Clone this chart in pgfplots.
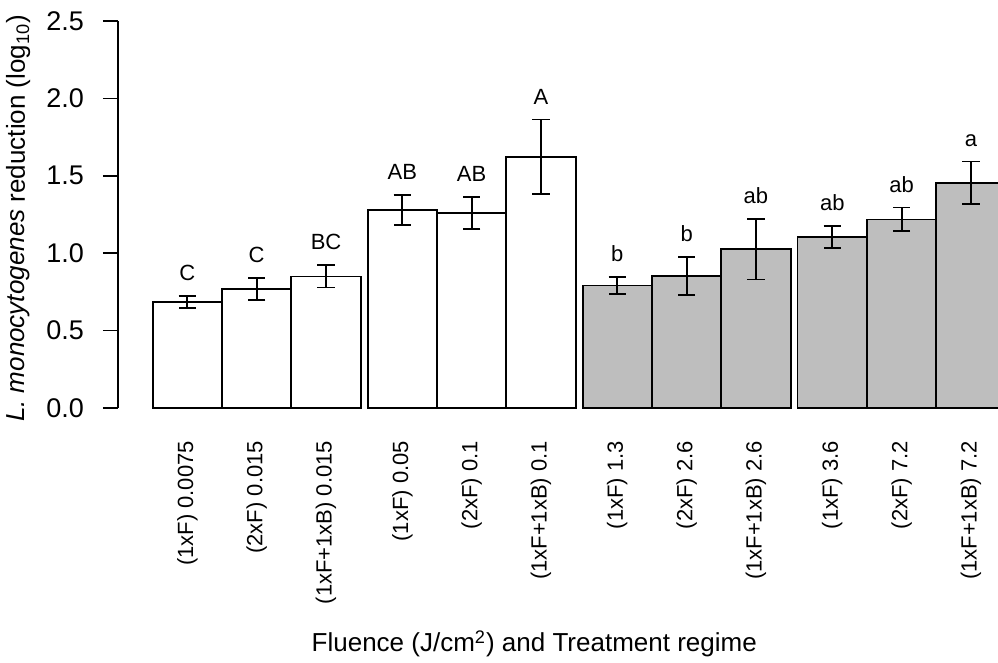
\documentclass[border=0pt]{standalone}
\usepackage{pgfplots}
\pgfplotsset{compat=1.18}
\usepackage{pgfplotstable}
\usepackage{fontspec}
\setmainfont{Liberation Sans}
\definecolor{rgray}{HTML}{BEBEBE}

% mean log reduction, standard error, letter group
\pgfplotstableread{
x    y     err   lab
1    0.685 0.038 C
2    0.771 0.071 C
3    0.850 0.072 BC
4.1  1.278 0.097 AB
5.1  1.259 0.103 AB
6.1  1.624 0.240 A
7.2  0.792 0.056 b
8.2  0.853 0.123 b
9.2  1.025 0.195 ab
10.3 1.103 0.071 ab
11.3 1.218 0.077 ab
12.3 1.455 0.138 a
}\reduction

\begin{document}
\begin{tikzpicture}
\begin{axis}[
    scale only axis,
    width=440pt, height=193.5pt,
    xmin=0, xmax=12.69, ymin=0, ymax=2.5,
    axis y line*=left, axis x line*=bottom,
    x axis line style={draw=none},
    y axis line style={line width=0.75pt, -},
    ytick={0,0.5,1,1.5,2,2.5},
    tick align=outside,
    major tick length=7.5pt,
    ytick style={line width=0.75pt, black},
    xtick style={draw=none},
    yticklabel style={font=\fontsize{13.5}{13.5}\selectfont,
        /pgf/number format/fixed, /pgf/number format/fixed zerofill,
        /pgf/number format/precision=1, /pgf/number format/assume math mode=true},
    yticklabel shift=6pt,
    xtick={1,2,3,4.1,5.1,6.1,7.2,8.2,9.2,10.3,11.3,12.3},
    xticklabels={(1xF) 0.0075,(2xF) 0.015,(1xF+1xB) 0.015,(1xF) 0.05,(2xF) 0.1,(1xF+1xB) 0.1,
        (1xF) 1.3,(2xF) 2.6,(1xF+1xB) 2.6,(1xF) 3.6,(2xF) 7.2,(1xF+1xB) 7.2},
    xticklabel style={rotate=90, anchor=east, font=\fontsize{11}{11}\selectfont},
    xticklabel shift=5.5pt,
    ylabel={\textit{L. monocytogenes} reduction (log\textsubscript{10})},
    ylabel style={font=\fontsize{13}{13}\selectfont, at={(axis description cs:-0.1136,0.49)}, anchor=center},
    xlabel={Fluence (J/cm\textsuperscript{2}) and Treatment regime},
    xlabel style={font=\fontsize{13}{13}\selectfont, at={(axis description cs:0.473,-0.63)}, anchor=base},
]
\addplot[ybar, bar width=1, bar shift=0pt, fill=white, draw=black, line width=0.9pt,
    restrict x to domain=0:6.5] table[x=x, y=y] {\reduction};
\addplot[ybar, bar width=1, bar shift=0pt, fill=rgray, draw=black, line width=0.9pt,
    restrict x to domain=6.5:13] table[x=x, y=y] {\reduction};
\addplot[only marks, mark=*, mark size=0pt, mark options={draw=none, fill=none},
    error bars/.cd, y dir=both, y explicit,
    error bar style={black, line width=0.9pt},
    error mark options={rotate=90, black, mark size=4.3pt, line width=0.9pt}]
    table[x=x, y=y, y error=err] {\reduction};
\addplot[only marks, mark=*, mark size=0pt, mark options={draw=none, fill=none},
    nodes near coords, point meta=explicit symbolic,
    nodes near coords style={anchor=base, yshift=7.7pt, font=\fontsize{11}{11}\selectfont, black}]
    table[x=x, y expr=\thisrow{y}+\thisrow{err}, meta=lab] {\reduction};
\coordinate (bbsw) at (rel axis cs:-0.1341,-0.6589);
\coordinate (bbne) at (rel axis cs:1,1.0543);
\end{axis}
\pgfresetboundingbox
\path[use as bounding box] (bbsw) rectangle (bbne);
\end{tikzpicture}
\end{document}
